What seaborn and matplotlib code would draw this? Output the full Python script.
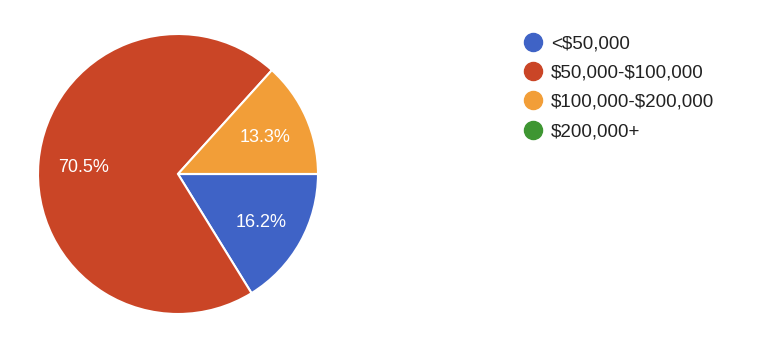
import matplotlib
matplotlib.use("Agg")
import matplotlib.pyplot as plt
import seaborn as sns
from matplotlib.lines import Line2D

categories = ["<$50,000", "$50,000-$100,000", "$100,000-$200,000", "$200,000+"]
values = [16.2, 70.5, 13.3, 0.0]
colors = ["#3F63C6", "#CA4526", "#F29E38", "#3E9632"]

sns.set_theme(style="white")
plt.rcParams['font.family'] = ['Liberation Sans', 'DejaVu Sans']
plt.rcParams['text.parse_math'] = False

fig = plt.figure(figsize=(7.68, 3.42), dpi=100)
ax = fig.add_axes([38/768, 28/342, 280/768, 280/342])

def fmt(p):
    return f"{p:.1f}%" if p > 1 else ""

wedges, texts, autotexts = ax.pie(
    values, colors=colors, startangle=0, counterclock=False,
    autopct=fmt, pctdistance=0.68, radius=1.0,
    wedgeprops=dict(edgecolor="white", linewidth=1.5),
    textprops=dict(color="white", fontsize=13, va="center_baseline"))
ax.set_xlim(-1, 1)
ax.set_ylim(-1, 1)
ax.set_aspect("equal")
ax.axis("off")

handles = [Line2D([0], [0], marker="o", linestyle="", markersize=13,
                  markerfacecolor=c, markeredgecolor=c) for c in colors]
leg = fig.legend(handles, categories, loc="upper left",
           bbox_to_anchor=(524/768, 1 - 35/342), frameon=False,
           fontsize=13.5, handlelength=1.0, handletextpad=0.45,
           labelspacing=0.65, borderpad=0, borderaxespad=0)
for t in leg.get_texts():
    t.set_color("#222222")

fig.savefig("out.png", dpi=100)
